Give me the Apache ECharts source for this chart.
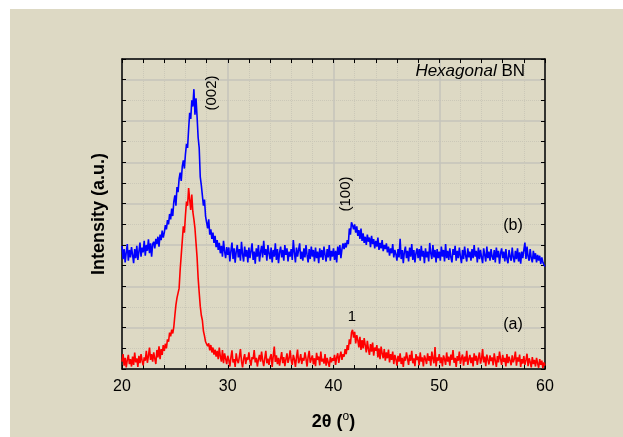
<!DOCTYPE html>
<html>
<head>
    <meta charset="UTF-8">
    <title></title>
    <style type="text/css">
        body { margin: 0; background: #fff; }
        #wrap { position: relative; width: 623px; height: 437px; background: #fff; }
        #paper { position: absolute; left: 10px; top: 9px; right: 0; bottom: 0; background: #ddd9c4; }
        #mychart { position: absolute; left: 0; top: 0; width: 623px; height: 437px; }
    </style>
</head>
<body>
<div id="wrap">
    <div id="paper"></div>
    <div id="mychart"></div>
</div>
<script src="https://cdn.jsdelivr.net/npm/echarts@6/dist/echarts.min.js"></script>
<script>
    // 2theta from 20 to 60, step 0.1
    var thetaStart = 20, thetaStep = 0.1;

    // sample (a), red
    var curveA = [
        0.18, 0.36, 0.08, 0.27, 0.04, 0.22, 0.34, 0.12, 0.24, 0.06,
        0.30, 0.10, 0.40, 0.16, 0.26, 0.05, 0.32, 0.14, 0.36, 0.20,
        0.09, 0.28, 0.20, 0.44, 0.15, 0.32, 0.52, 0.22, 0.36, 0.18,
        0.40, 0.25, 0.12, 0.46, 0.28, 0.55, 0.24, 0.48, 0.34, 0.58,
        0.44, 0.61, 0.50, 0.72, 0.66, 0.88, 0.79, 0.95, 0.86, 1.02,
        1.30, 1.55, 1.72, 1.68, 1.95, 2.40, 2.75, 3.10, 3.45, 3.30,
        3.72, 4.05, 3.95, 4.38, 4.10, 3.85, 4.22, 3.80, 3.62, 3.40,
        3.05, 2.70, 2.20, 1.85, 1.52, 1.30, 1.18, 0.92, 0.80, 0.66,
        0.70, 0.55, 0.62, 0.45, 0.58, 0.40, 0.52, 0.35, 0.47, 0.30,
        0.44, 0.24, 0.52, 0.30, 0.18, 0.46, 0.14, 0.38, 0.25, 0.12,
        0.32, 0.22, 0.06, 0.28, 0.45, 0.16, 0.24, 0.05, 0.38, 0.21,
        0.14, 0.30, 0.48, 0.19, 0.04, 0.25, 0.36, 0.12, 0.28, 0.22,
        0.40, 0.20, 0.08, 0.29, 0.24, 0.46, 0.16, 0.27, 0.06, 0.23,
        0.34, 0.18, 0.42, 0.21, 0.07, 0.26, 0.44, 0.14, 0.25, 0.10,
        0.28, 0.36, 0.05, 0.31, 0.54, 0.17, 0.33, 0.12, 0.27, 0.08,
        0.25, 0.41, 0.14, 0.29, 0.07, 0.23, 0.38, 0.15, 0.26, 0.45,
        0.21, 0.10, 0.34, 0.24, 0.05, 0.28, 0.47, 0.14, 0.22, 0.36,
        0.12, 0.27, 0.20, 0.40, 0.25, 0.06, 0.29, 0.44, 0.15, 0.24,
        0.33, 0.11, 0.26, 0.07, 0.39, 0.22, 0.30, 0.09, 0.42, 0.18,
        0.25, 0.13, 0.36, 0.08, 0.27, 0.31, 0.05, 0.29, 0.16, 0.26,
        0.20, 0.34, 0.10, 0.28, 0.38, 0.15, 0.31, 0.42, 0.22, 0.36,
        0.30, 0.48, 0.36, 0.58, 0.46, 0.72, 0.60, 0.88, 0.95, 0.76,
        0.90, 0.62, 0.82, 0.70, 0.52, 0.78, 0.46, 0.70, 0.50, 0.75,
        0.58, 0.40, 0.68, 0.48, 0.34, 0.60, 0.42, 0.64, 0.32, 0.52,
        0.44, 0.58, 0.28, 0.50, 0.24, 0.54, 0.38, 0.26, 0.48, 0.20,
        0.40, 0.26, 0.47, 0.16, 0.36, 0.22, 0.42, 0.12, 0.34, 0.24,
        0.08, 0.32, 0.18, 0.38, 0.12, 0.27, 0.05, 0.30, 0.20, 0.40,
        0.25, 0.10, 0.34, 0.20, 0.44, 0.14, 0.26, 0.07, 0.36, 0.22,
        0.30, 0.09, 0.40, 0.18, 0.28, 0.06, 0.33, 0.24, 0.12, 0.38,
        0.20, 0.31, 0.08, 0.42, 0.25, 0.14, 0.53, 0.06, 0.28, 0.20,
        0.36, 0.14, 0.28, 0.06, 0.33, 0.24, 0.10, 0.40, 0.18, 0.30,
        0.08, 0.35, 0.22, 0.46, 0.15, 0.27, 0.05, 0.31, 0.20, 0.42,
        0.12, 0.26, 0.35, 0.08, 0.30, 0.18, 0.44, 0.10, 0.24, 0.34,
        0.14, 0.28, 0.06, 0.38, 0.20, 0.32, 0.10, 0.27, 0.40, 0.13,
        0.24, 0.48, 0.16, 0.30, 0.07, 0.35, 0.22, 0.11, 0.33, 0.19,
        0.28, 0.09, 0.38, 0.20, 0.05, 0.31, 0.16, 0.42, 0.24, 0.10,
        0.34, 0.17, 0.27, 0.06, 0.36, 0.14, 0.30, 0.20, 0.09, 0.33,
        0.16, 0.25, 0.42, 0.08, 0.28, 0.18, 0.35, 0.05, 0.24, 0.13,
        0.31, 0.10, 0.22, 0.37, 0.07, 0.26, 0.17, 0.04, 0.29, 0.12,
        0.22, 0.06, 0.27, 0.14, 0.03, 0.24, 0.10, 0.20, 0.02, 0.16,
        0.08
    ];

    // sample (b), blue
    var curveB = [
        2.98, 2.66, 2.90, 2.58, 2.82, 3.02, 2.62, 2.88, 2.70, 2.95,
        2.76, 2.56, 2.90, 2.68, 2.98, 2.64, 2.84, 3.06, 2.72, 2.94,
        2.82, 3.10, 2.74, 3.00, 2.86, 3.14, 2.80, 3.04, 2.72, 3.02,
        3.08, 2.92, 3.15, 3.02, 3.20, 2.96, 3.25, 3.12, 3.35, 3.18,
        3.30, 3.48, 3.38, 3.60, 3.50, 3.75, 3.62, 3.88, 3.70, 4.05,
        4.20, 3.95, 4.40, 4.28, 4.60, 4.75, 4.55, 4.90, 5.05, 4.85,
        5.20, 5.45, 5.35, 5.80, 6.20, 6.05, 6.50, 6.35, 6.77, 6.15,
        6.55, 6.10, 5.60, 5.35, 4.65, 4.45, 4.20, 3.95, 4.10, 3.70,
        3.55, 3.40, 3.62, 3.25, 3.38, 3.15, 3.30, 3.05, 3.22, 2.95,
        3.12, 2.88, 3.05, 2.80, 2.98, 2.72, 3.10, 2.85, 2.68, 2.95,
        2.76, 2.94, 2.60, 2.86, 3.06, 2.66, 2.92, 2.57, 2.84, 3.00,
        2.70, 2.90, 2.62, 3.08, 2.78, 2.60, 2.96, 2.72, 2.88, 2.58,
        2.94, 2.68, 2.86, 3.04, 2.64, 2.84, 2.55, 2.92, 2.72, 3.00,
        2.60, 2.82, 2.98, 2.70, 3.10, 2.76, 2.90, 2.62, 3.00, 2.80,
        2.66, 2.94, 2.58, 2.88, 2.72, 3.04, 2.64, 2.90, 2.56, 2.82,
        2.96, 2.70, 2.88, 2.62, 3.00, 2.76, 2.92, 2.60, 2.84, 2.72,
        2.90, 2.64, 3.12, 2.82, 2.58, 2.94, 2.72, 2.88, 3.04, 2.66,
        2.84, 2.62, 2.92, 2.70, 3.00, 2.76, 2.58, 2.90, 2.66, 2.96,
        2.72, 2.88, 2.60, 2.94, 2.68, 2.84, 2.56, 2.92, 2.70, 2.88,
        2.64, 2.96, 2.76, 2.60, 2.90, 2.70, 3.00, 2.62, 2.86, 2.72,
        2.92, 2.64, 2.86, 2.58, 2.96, 2.76, 3.00, 2.68, 2.90, 3.04,
        2.90, 3.05, 2.94, 3.12, 3.02, 3.40, 3.25, 3.55, 3.48, 3.38,
        3.50, 3.30, 3.45, 3.22, 3.36, 3.15, 3.40, 3.10, 3.28, 3.05,
        3.20, 3.00, 3.25, 3.08, 3.18, 2.95, 3.22, 3.02, 3.14, 2.92,
        3.10, 2.96, 3.18, 2.88, 3.05, 2.92, 3.12, 2.85, 3.00, 2.90,
        3.04, 2.82, 2.96, 2.74, 2.92, 2.80, 3.02, 2.70, 2.88, 2.78,
        2.62, 2.90, 2.70, 3.15, 2.66, 2.88, 2.56, 2.84, 2.96, 2.68,
        2.86, 2.60, 2.94, 2.72, 3.02, 2.64, 2.88, 2.58, 2.80, 2.92,
        2.68, 2.90, 2.62, 2.98, 2.72, 2.86, 2.56, 2.92, 2.70, 2.84,
        2.60, 3.05, 2.80, 2.66, 3.00, 2.70, 2.88, 2.58, 2.90, 2.68,
        2.84, 2.62, 2.96, 2.72, 2.88, 2.60, 3.02, 2.68, 2.86, 2.64,
        2.92, 2.70, 2.58, 2.90, 2.76, 2.98, 2.62, 2.86, 2.68, 2.94,
        2.72, 2.56, 2.88, 2.66, 2.96, 2.74, 2.60, 2.92, 2.70, 2.84,
        2.62, 2.90, 2.68, 3.00, 2.72, 2.86, 2.58, 2.94, 2.66, 2.88,
        2.70, 2.56, 2.92, 2.76, 2.60, 2.96, 2.68, 2.84, 2.62, 2.90,
        2.72, 2.64, 2.88, 2.58, 2.94, 2.70, 2.86, 2.55, 2.80, 2.92,
        2.68, 2.84, 2.60, 2.90, 2.66, 2.56, 2.88, 2.72, 2.62, 2.94,
        2.70, 2.58, 2.86, 2.66, 2.92, 2.60, 2.82, 2.55, 2.84, 2.68,
        2.88, 3.06, 2.66, 2.96, 2.72, 2.62, 2.90, 2.68, 2.58, 2.86,
        2.66, 2.80, 2.58, 2.76, 2.62, 2.74, 2.54, 2.70, 2.58, 2.52,
        2.48
    ];

    var xTicks = [20, 30, 40, 50, 60];

    function toPairs(arr) {
        var res = [];
        for (var i = 0; i < arr.length; i++) {
            res.push([Math.round((thetaStart + i * thetaStep) * 10) / 10, arr[i]]);
        }
        return res;
    }

    var font = '"Liberation Sans", Arial, sans-serif';
    var black = '#000';
    var majorGrid = '#c5c3bb';
    var minorGrid = '#cbc8b8';

    var myChart = echarts.init(document.getElementById('mychart'));

    var option = {
        animation: false,
        backgroundColor: 'transparent',
        grid: {left: 122, right: 78, top: 59, bottom: 68},
        xAxis: [{
            type: 'value',
            min: xTicks[0],
            max: xTicks[xTicks.length - 1],
            interval: 10,
            position: 'bottom',
            axisLine: {onZero: false, lineStyle: {color: black, width: 1.5}},
            axisTick: {inside: true, length: 4, lineStyle: {color: black}},
            minorTick: {show: true, splitNumber: 5, length: 4, lineStyle: {color: black}},
            axisLabel: {color: black, fontSize: 16, margin: 10, fontFamily: font},
            splitLine: {show: true, lineStyle: {color: majorGrid, width: 1.5}},
            minorSplitLine: {show: true, lineStyle: {color: minorGrid, type: 'dotted', width: 1}},
            name: '{b|2θ (}{s|o}{b|)}',
            nameLocation: 'middle',
            nameGap: 42,
            nameTextStyle: {
                rich: {
                    b: {fontSize: 18, fontWeight: 'bold', fontFamily: font, color: black, lineHeight: 22},
                    s: {fontSize: 12, fontFamily: font, color: black, lineHeight: 12, verticalAlign: 'top'}
                }
            }
        }, {
            type: 'value',
            min: xTicks[0],
            max: xTicks[xTicks.length - 1],
            interval: 10,
            position: 'top',
            axisLine: {onZero: false, lineStyle: {color: black, width: 1.5}},
            axisTick: {inside: true, length: 4, lineStyle: {color: black}},
            minorTick: {show: true, splitNumber: 5, length: 4, lineStyle: {color: black}},
            axisLabel: {show: false},
            splitLine: {show: false}
        }],
        yAxis: [{
            type: 'value',
            min: 0,
            max: 7.5,
            interval: 0.5,
            position: 'left',
            axisLine: {show: true, onZero: false, lineStyle: {color: black, width: 1.5}},
            axisTick: {show: true, inside: true, length: 4, lineStyle: {color: black}},
            axisLabel: {show: false},
            // dotted lines only on the half steps
            splitLine: {show: true, lineStyle: {color: ['rgba(0,0,0,0)', minorGrid], type: 'dotted', width: 1}},
            name: 'Intensity (a.u.)',
            nameLocation: 'middle',
            nameGap: 14,
            nameTextStyle: {fontSize: 18, fontWeight: 'bold', fontFamily: font, color: black}
        }, {
            type: 'value',
            min: 0,
            max: 7.5,
            interval: 0.5,
            position: 'right',
            axisLine: {show: true, onZero: false, lineStyle: {color: black, width: 1.5}},
            axisTick: {show: true, inside: true, length: 4, lineStyle: {color: black}},
            axisLabel: {show: false},
            splitLine: {show: false}
        }, {
            type: 'value',
            min: 0,
            max: 7.5,
            interval: 1,
            axisLine: {show: false},
            axisTick: {show: false},
            axisLabel: {show: false},
            splitLine: {show: true, lineStyle: {color: majorGrid, width: 1.5}}
        }],
        series: [{
            name: '(a)',
            type: 'line',
            data: toPairs(curveA),
            showSymbol: false,
            lineStyle: {color: '#ff0000', width: 1.6},
            z: 3
        }, {
            name: '(b)',
            type: 'line',
            data: toPairs(curveB),
            showSymbol: false,
            lineStyle: {color: '#0000ff', width: 1.6},
            z: 4
        }],
        graphic: [{
            type: 'text',
            x: 525, y: 71, z: 100,
            style: {
                text: '{i|Hexagonal} BN',
                align: 'right', verticalAlign: 'middle',
                fontSize: 17, fontFamily: font, fill: black,
                rich: {i: {fontStyle: 'italic', fontSize: 17, fontFamily: font}}
            }
        }, {
            type: 'text',
            x: 212, y: 93, z: 100, rotation: Math.PI / 2,
            style: {text: '(002)', align: 'center', verticalAlign: 'middle', fontSize: 15, fontFamily: font, fill: black}
        }, {
            type: 'text',
            x: 346, y: 194, z: 100, rotation: Math.PI / 2,
            style: {text: '(100)', align: 'center', verticalAlign: 'middle', fontSize: 15, fontFamily: font, fill: black}
        }, {
            type: 'text',
            x: 513, y: 226, z: 100,
            style: {text: '(b)', align: 'center', verticalAlign: 'middle', fontSize: 16, fontFamily: font, fill: black}
        }, {
            type: 'text',
            x: 513, y: 325, z: 100,
            style: {text: '(a)', align: 'center', verticalAlign: 'middle', fontSize: 16, fontFamily: font, fill: black}
        }, {
            type: 'text',
            x: 352, y: 317, z: 100,
            style: {text: '1', align: 'center', verticalAlign: 'middle', fontSize: 15, fontFamily: font, fill: black}
        }]
    };

    myChart.setOption(option);
</script>
</body>
</html>
